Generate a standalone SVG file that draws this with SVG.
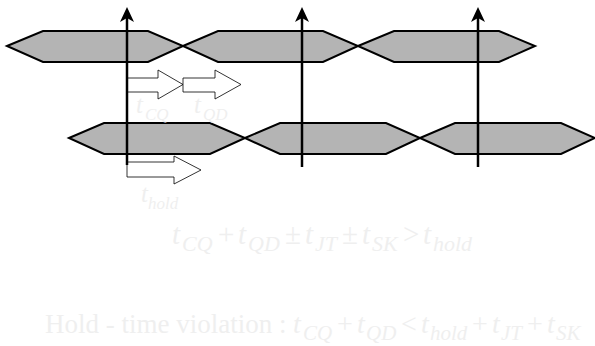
<svg xmlns="http://www.w3.org/2000/svg" width="595" height="346" viewBox="0 0 595 346">
<style>
.hex{fill:#b4b4b4;stroke:#000;stroke-width:2;stroke-linejoin:miter}
.clk{stroke:#000;stroke-width:2.5;fill:none}
.head{fill:#000}
.blk{fill:#fff;stroke:#000;stroke-width:0.8}
.t{font-family:"Liberation Serif","Times New Roman",serif;fill:#efefef}
.i{font-style:italic}
.m{font-size:29px}
.m2{font-size:28px}
.s{font-size:22px;font-style:italic}
.s2{font-size:21px;font-style:italic}
</style>
<g id="bus-top">
<polygon class="hex" points="7,46 43,31 148,31 183,46 148,62 43,62"/>
<polygon class="hex" points="183,46 218,31 323,31 358,46 323,62 218,62"/>
<polygon class="hex" points="358,46 394,31 499,31 535,46 499,62 394,62"/>
</g>
<g id="bus-bottom">
<polygon class="hex" points="69,138 104,123 210,123 245,138 210,154 104,154"/>
<polygon class="hex" points="245,138 280,123 386,123 420,138 386,154 280,154"/>
<polygon class="hex" points="420,138 455,123 561,123 595,138 561,154 455,154"/>
</g>
<g id="delay-arrows">
<polygon id="arrow-cq" class="blk" points="127,78 158,78 158,70 183,84.5 158,99 158,92 127,92"/>
<polygon id="arrow-qd" class="blk" points="183,78 215,78 215,70 241,84.5 215,99 215,92 183,92"/>
<polygon id="arrow-hold" class="blk" points="127,162 174,162 174,156 201,170 174,184 174,177 127,177"/>
</g>
<g id="connectors">
<path class="clk" d="M127,165 V12"/>
<path class="head" d="M127,7 L134,22 L127,18 L120,22 Z"/>
<path class="clk" d="M302,167 V12"/>
<path class="head" d="M302,7 L309,22 L302,18 L295,22 Z"/>
<path class="clk" d="M478,167 V12"/>
<path class="head" d="M478,7 L485,22 L478,18 L471,22 Z"/>
</g>
<g id="labels" class="t i">
<text font-size="25" x="136" y="113">t</text>
<text font-size="17" x="145" y="120">CQ</text>
<text font-size="25" x="194" y="113">t</text>
<text font-size="17" x="203" y="120">QD</text>
<text font-size="25" x="141" y="202">t</text>
<text font-size="17" x="148" y="209">hold</text>
</g>
<g id="equation-1" class="t">
<text class="m i" x="172" y="244">t</text>
<text class="s" x="182" y="251">CQ</text>
<text class="m" x="218" y="244">+</text>
<text class="m i" x="238" y="244">t</text>
<text class="s" x="248" y="251">QD</text>
<text class="m" x="285" y="244">±</text>
<text class="m i" x="305" y="244">t</text>
<text class="s" x="315" y="251">JT</text>
<text class="m" x="342" y="244">±</text>
<text class="m i" x="362" y="244">t</text>
<text class="s" x="372" y="251">SK</text>
<text class="m" x="403" y="244">&gt;</text>
<text class="m i" x="423" y="244">t</text>
<text class="s" x="433" y="251">hold</text>
</g>
<g id="equation-2" class="t">
<text font-size="27" x="45" y="333">Hold - time violation :</text>
<text class="m2 i" x="293" y="333">t</text>
<text class="s2" x="303" y="340">CQ</text>
<text class="m2" x="337" y="333">+</text>
<text class="m2 i" x="357" y="333">t</text>
<text class="s2" x="366" y="340">QD</text>
<text class="m2" x="401" y="333">&lt;</text>
<text class="m2 i" x="421" y="333">t</text>
<text class="s2" x="430" y="340">hold</text>
<text class="m2" x="472" y="333">+</text>
<text class="m2 i" x="492" y="333">t</text>
<text class="s2" x="501" y="340">JT</text>
<text class="m2" x="527" y="333">+</text>
<text class="m2 i" x="547" y="333">t</text>
<text class="s2" x="556" y="340">SK</text>
</g>
</svg>
